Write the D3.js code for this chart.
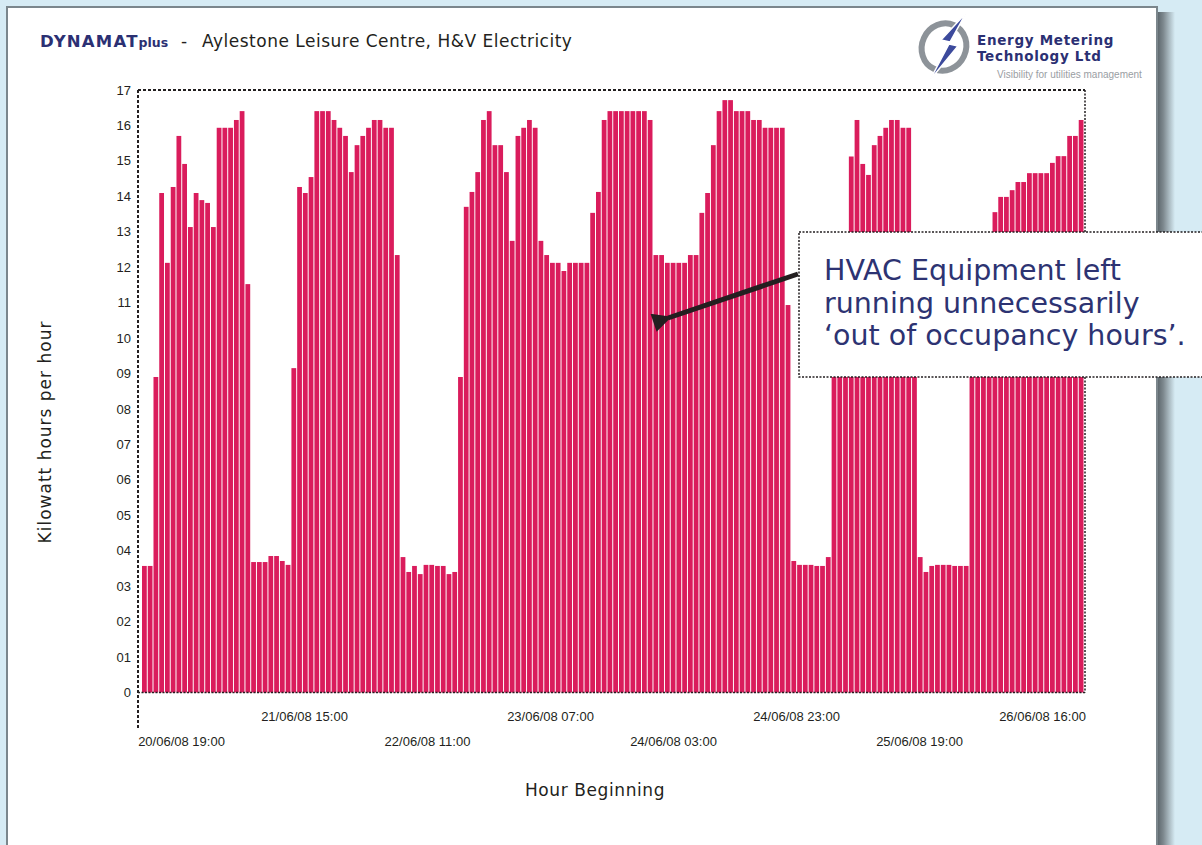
<!DOCTYPE html>
<html>
<head>
<meta charset="utf-8">
<script src="https://cdn.jsdelivr.net/npm/d3@7"></script>
<style>
  body { margin: 0; background: #d6ebf4; }
  svg { display: block; }
</style>
</head>
<body>
<div id="chart"></div>
<script>
// hourly kWh readings (hidden ones behind the note are guesses)
const kwh = [
  3.57, 3.57, 8.9, 14.09, 12.12, 14.26, 15.70, 14.91, 13.13, 14.09,
  13.89, 13.81, 13.13, 15.93, 15.93, 15.93, 16.15, 16.40, 11.52, 3.68,
  3.68, 3.68, 3.85, 3.85, 3.71, 3.60, 9.15, 14.26, 14.09, 14.54,
  16.40, 16.40, 16.40, 16.15, 15.93, 15.70, 14.68, 15.44, 15.70, 15.93,
  16.15, 16.15, 15.93, 15.93, 12.34, 3.82, 3.40, 3.57, 3.34, 3.60,
  3.60, 3.57, 3.57, 3.34, 3.40, 8.9, 13.70, 14.12, 14.68, 16.15,
  16.40, 15.44, 15.44, 14.68, 12.74, 15.70, 15.93, 16.15, 15.93, 12.74,
  12.34, 12.12, 12.12, 11.89, 12.12, 12.12, 12.12, 12.12, 13.53, 14.12,
  16.15, 16.40, 16.40, 16.40, 16.40, 16.40, 16.40, 16.40, 16.15, 12.34,
  12.34, 12.12, 12.12, 12.12, 12.12, 12.34, 12.34, 13.53, 14.09, 15.44,
  16.40, 16.71, 16.71, 16.40, 16.40, 16.40, 16.15, 16.15, 15.93, 15.93,
  15.93, 15.93, 10.93, 3.71, 3.60, 3.60, 3.60, 3.57, 3.57, 3.82,
  9.6, 11.2, 12.4, 15.12, 16.15, 14.91, 14.60, 15.44, 15.70, 15.93,
  16.15, 16.15, 15.93, 15.93, 12.0, 3.82, 3.40, 3.57, 3.60, 3.60,
  3.60, 3.57, 3.57, 3.57, 9.5, 11.0, 12.0, 12.6, 13.55, 13.98,
  13.98, 14.17, 14.40, 14.40, 14.65, 14.65, 14.65, 14.65, 14.94, 15.13,
  15.13, 15.70, 15.70, 16.15
];

const xLabels = ["20/06/08 19:00", "21/06/08 15:00", "22/06/08 11:00", "23/06/08 07:00",
                 "24/06/08 03:00", "24/06/08 23:00", "25/06/08 19:00", "26/06/08 16:00"];
const yLabels = ["0", "01", "02", "03", "04", "05", "06", "07", "08", "09",
                 "10", "11", "12", "13", "14", "15", "16", "17"];
const noteLines = ["HVAC Equipment left", "running unnecessarily", "\u2018out of occupancy hours\u2019."];
const logoLines = ["Energy Metering", "Technology Ltd"];

const width = 1202, height = 845;
const plot = {left: 138, right: 1085, top: 90, bottom: 692.5};

const svg = d3.select("#chart")
  .append("svg")
  .attr("width", width)
  .attr("height", height);

const defs = svg.append("defs");
const shade = defs.append("linearGradient").attr("id", "shade");
shade.append("stop").attr("offset", "0%").attr("stop-color", "#5a646a");
shade.append("stop").attr("offset", "35%").attr("stop-color", "#7d888e");
shade.append("stop").attr("offset", "100%").attr("stop-color", "#d6ebf4");

// the sheet of paper
svg.append("rect")
  .attr("x", 1157).attr("y", 12)
  .attr("width", 18).attr("height", height)
  .attr("fill", "url(#shade)");
svg.append("rect")
  .attr("x", 7).attr("y", 7)
  .attr("width", 1150).attr("height", height)
  .attr("fill", "#fff")
  .attr("stroke", "#7b868c")
  .attr("stroke-width", 2);

// title
const title = svg.append("text")
  .attr("x", 40).attr("y", 47)
  .attr("font-family", "DejaVu Sans")
  .attr("fill", "#2b3073")
  .attr("font-weight", "bold");
title.append("tspan").attr("font-size", 16.5).attr("letter-spacing", 1.2).text("DYNAMAT");
title.append("tspan").attr("font-size", 12.5).text("plus");
svg.append("text")
  .attr("x", 181).attr("y", 47)
  .attr("font-family", "DejaVu Sans")
  .attr("font-size", 17)
  .attr("fill", "#231f20")
  .text("-");
svg.append("text")
  .attr("x", 202).attr("y", 47)
  .attr("font-family", "DejaVu Sans")
  .attr("font-size", 17)
  .attr("letter-spacing", 0.5)
  .attr("fill", "#231f20")
  .text("Aylestone Leisure Centre, H&V Electricity");

// logo
const logo = svg.append("g");
logo.append("ellipse")
  .attr("cx", 944).attr("cy", 47)
  .attr("rx", 22).attr("ry", 24)
  .attr("transform", "rotate(25 944 47)")
  .attr("fill", "none")
  .attr("stroke", "#8d9399")
  .attr("stroke-width", 6);
logo.append("path")
  .attr("d", "M966,13 L941,40 L950,42 L930,80 L958,46 L949,44 Z")
  .attr("fill", "#3c4a9c")
  .attr("stroke", "#fff")
  .attr("stroke-width", 1.5);
logo.append("g")
  .attr("font-family", "DejaVu Sans").attr("font-weight", "bold")
  .attr("font-size", 13.5).attr("letter-spacing", 0.7)
  .attr("fill", "#2b3073")
  .selectAll("text")
  .data(logoLines)
  .join("text")
  .attr("x", 977)
  .attr("y", (d, i) => 45 + i * 16)
  .text(d => d);
logo.append("text")
  .attr("x", 997).attr("y", 78)
  .attr("font-family", "Liberation Sans")
  .attr("font-size", 10).attr("fill", "#9a9ea3")
  .text("Visibility for utilities management");

// scales
const xScale = d3.scaleBand()
  .domain(d3.range(kwh.length))
  .range([142, 1083.5])
  .paddingInner(0.17);

const yScale = d3.scaleLinear()
  .domain([0, 17])
  .range([plot.bottom, plot.bottom - 17 * 35.45]);

// bars
svg.append("g")
  .selectAll("rect")
  .data(kwh)
  .join("rect")
  .attr("x", (d, i) => xScale(i))
  .attr("y", d => yScale(d))
  .attr("width", xScale.bandwidth())
  .attr("height", d => yScale(0) - yScale(d))
  .attr("fill", "#da1c5c");

// dotted frame
const frame = svg.append("g")
  .attr("stroke", "#231f20")
  .attr("fill", "none");
frame.append("line")
  .attr("x1", plot.left).attr("x2", plot.right)
  .attr("y1", plot.top).attr("y2", plot.top)
  .attr("stroke-width", 2).attr("stroke-dasharray", "3,2");
frame.append("line")
  .attr("x1", plot.left).attr("x2", plot.left)
  .attr("y1", plot.top).attr("y2", 728)
  .attr("stroke-width", 2).attr("stroke-dasharray", "3,2");
frame.append("line")
  .attr("x1", plot.right).attr("x2", plot.right)
  .attr("y1", plot.top).attr("y2", plot.bottom)
  .attr("stroke-width", 1.5).attr("stroke-dasharray", "2,1.5");
frame.append("line")
  .attr("x1", plot.left).attr("x2", plot.right)
  .attr("y1", plot.bottom).attr("y2", plot.bottom)
  .attr("stroke-width", 1.5).attr("stroke-dasharray", "2,1.5");

// axes
const yAxis = d3.axisLeft(yScale)
  .tickValues(d3.range(yLabels.length))
  .tickFormat(i => yLabels[i])
  .tickSize(0)
  .tickPadding(7);

const yAxGr = svg.append("g")
  .attr("transform", `translate(${plot.left},0)`)
  .call(yAxis);
yAxGr.select(".domain").remove();
yAxGr.selectAll("text")
  .attr("font-family", "Liberation Sans")
  .attr("font-size", 13)
  .attr("fill", "#231f20");

const xPoint = d3.scalePoint()
  .domain(xLabels)
  .range([181, 1042]);

const xAxGr = svg.append("g")
  .attr("transform", `translate(0,${plot.bottom})`)
  .call(d3.axisBottom(xPoint).tickSize(0));
xAxGr.select(".domain").remove();
xAxGr.selectAll("text")
  .attr("font-family", "Liberation Sans")
  .attr("font-size", 13)
  .attr("fill", "#231f20")
  .attr("y", (d, i) => i % 2 ? 19 : 44);

// axis titles
svg.append("text")
  .attr("x", 595).attr("y", 796)
  .attr("text-anchor", "middle")
  .attr("font-family", "DejaVu Sans")
  .attr("font-size", 17)
  .attr("letter-spacing", 0.6)
  .attr("fill", "#231f20")
  .text("Hour Beginning");
svg.append("text")
  .attr("transform", "translate(51,432) rotate(-90)")
  .attr("text-anchor", "middle")
  .attr("font-family", "DejaVu Sans")
  .attr("font-size", 17)
  .attr("letter-spacing", 1)
  .attr("fill", "#231f20")
  .text("Kilowatt hours per hour");

// annotation box and arrow
svg.append("rect")
  .attr("x", 799).attr("y", 232)
  .attr("width", 420).attr("height", 145)
  .attr("fill", "#fff")
  .attr("stroke", "#231f20")
  .attr("stroke-width", 1.5)
  .attr("stroke-dasharray", "2,1.5");

svg.append("g")
  .attr("font-family", "DejaVu Sans")
  .attr("font-size", 28.5)
  .attr("fill", "#2d3372")
  .selectAll("text")
  .data(noteLines)
  .join("text")
  .attr("x", 824)
  .attr("y", (d, i) => 280 + i * 32.5)
  .text(d => d);

defs.append("marker")
  .attr("id", "head")
  .attr("viewBox", "0 0 10 10")
  .attr("refX", 2).attr("refY", 5)
  .attr("markerWidth", 4.6).attr("markerHeight", 3.8)
  .attr("orient", "auto-start-reverse")
  .append("path")
  .attr("d", "M10,0 L0,5 L10,10 Z")
  .attr("fill", "#231f20");

svg.append("line")
  .attr("x1", 798).attr("y1", 274)
  .attr("x2", 668).attr("y2", 318)
  .attr("stroke", "#231f20")
  .attr("stroke-width", 5)
  .attr("marker-end", "url(#head)");
</script>
</body>
</html>
